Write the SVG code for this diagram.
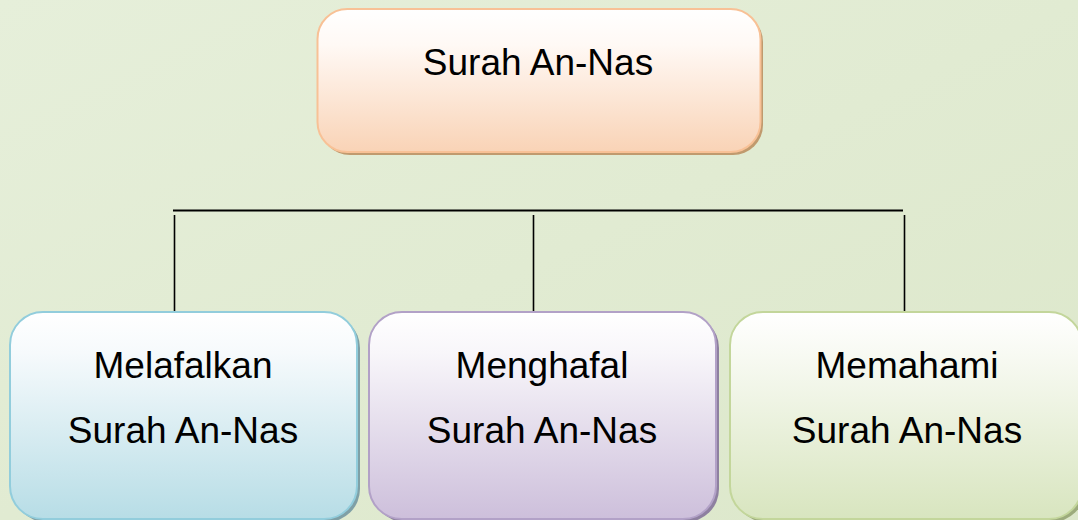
<svg xmlns="http://www.w3.org/2000/svg" width="1078" height="520" viewBox="0 0 1078 520">
<defs>
<linearGradient id="bg" x1="0" y1="0" x2="1" y2="1">
<stop offset="0" stop-color="#E6EFDA"/>
<stop offset="1" stop-color="#DCE7CA"/>
</linearGradient>
<linearGradient id="gOrange" x1="0" y1="0" x2="0" y2="1">
<stop offset="0" stop-color="#FFFFFF"/>
<stop offset="0.25" stop-color="#FFF9F5"/>
<stop offset="1" stop-color="#F9D3B6"/>
</linearGradient>
<linearGradient id="gBlue" x1="0" y1="0" x2="0" y2="1">
<stop offset="0" stop-color="#FFFFFF"/>
<stop offset="0.2" stop-color="#F6FAFC"/>
<stop offset="1" stop-color="#B7DDE6"/>
</linearGradient>
<linearGradient id="gPurple" x1="0" y1="0" x2="0" y2="1">
<stop offset="0" stop-color="#FFFFFF"/>
<stop offset="0.2" stop-color="#F8F6FA"/>
<stop offset="1" stop-color="#CDBFDB"/>
</linearGradient>
<linearGradient id="gGreen" x1="0" y1="0" x2="0" y2="1">
<stop offset="0" stop-color="#FFFFFF"/>
<stop offset="0.2" stop-color="#F8FAF3"/>
<stop offset="1" stop-color="#D8E5BF"/>
</linearGradient>
</defs>
<style>
.lbl{font-family:"Liberation Sans",Arial,sans-serif;font-size:37px;fill:#000;text-anchor:middle}
.conn{stroke:#000;fill:none}
</style>
<rect x="0" y="0" width="1078" height="520" fill="url(#bg)"/>

<g id="connectors">
<line class="conn" x1="173" y1="210.5" x2="903" y2="210.5" stroke-width="2.2"/>
<line class="conn" x1="174.5" y1="215" x2="174.5" y2="314" stroke-width="1.6"/>
<line class="conn" x1="533.5" y1="215" x2="533.5" y2="314" stroke-width="1.6"/>
<line class="conn" x1="904.5" y1="215" x2="904.5" y2="314" stroke-width="1.6"/>
</g>

<g id="node-top">
<rect x="320" y="12" width="443" height="143" rx="30" fill="#C09A6E"/>
<rect x="317.5" y="9" width="443" height="143" rx="30" fill="url(#gOrange)" stroke="#F8C196" stroke-width="2"/>
<text class="lbl" x="538" y="75">Surah An-Nas</text>
</g>

<g id="node-melafalkan">
<rect x="13" y="315" width="347" height="207" rx="33" fill="#7FA0A6"/>
<rect x="10" y="312" width="347" height="207" rx="33" fill="url(#gBlue)" stroke="#92CDDC" stroke-width="2"/>
<text class="lbl" x="183" y="378">Melafalkan</text>
<text class="lbl" x="183" y="443">Surah An-Nas</text>
</g>

<g id="node-menghafal">
<rect x="372" y="315" width="347" height="207" rx="33" fill="#8E80A0"/>
<rect x="369" y="312" width="347" height="207" rx="33" fill="url(#gPurple)" stroke="#B2A1C7" stroke-width="2"/>
<text class="lbl" x="542" y="378">Menghafal</text>
<text class="lbl" x="542" y="443">Surah An-Nas</text>
</g>

<g id="node-memahami">
<rect x="733" y="315" width="352" height="207" rx="33" fill="#9CAB7C"/>
<rect x="730" y="312" width="352" height="207" rx="33" fill="url(#gGreen)" stroke="#C3D69B" stroke-width="2"/>
<text class="lbl" x="907" y="378">Memahami</text>
<text class="lbl" x="907" y="443">Surah An-Nas</text>
</g>
</svg>
